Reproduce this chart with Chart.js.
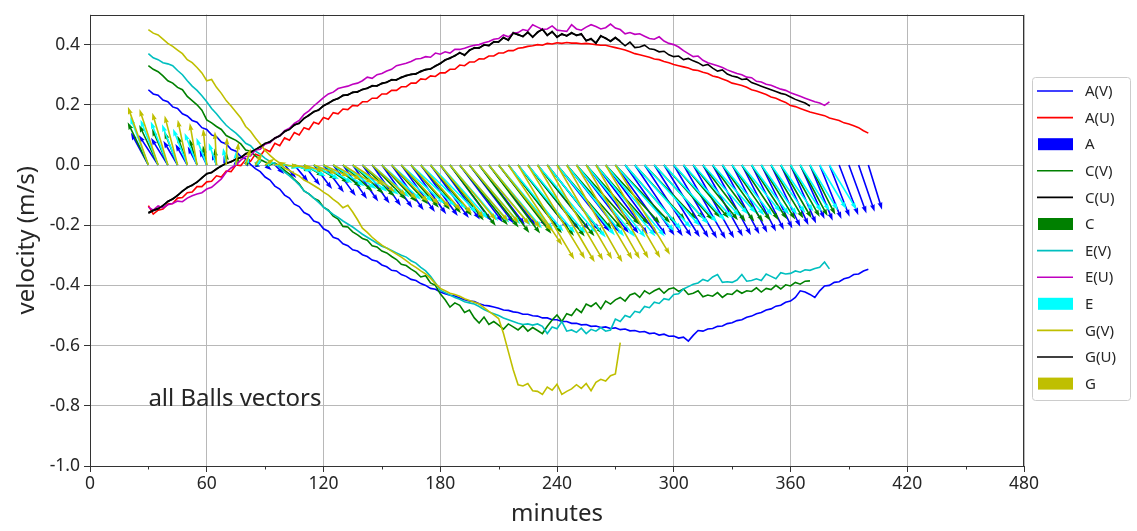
<!DOCTYPE html>
<html>
<head>
<meta charset="utf-8">
<script src="https://cdn.jsdelivr.net/npm/chart.js@4.4.1/dist/chart.umd.min.js"></script>
<style>
  html, body { margin: 0; padding: 0; background: #fff; }
  #wrap { width: 1137px; height: 531px; position: relative; }
</style>
</head>
<body>
<div id="wrap"><canvas id="velocity-chart"></canvas></div>
<script>
// sample clock: every ball logged from minute 30, one reading per 2.5 min
const startMin = 30;
const stepMin = 2.5;

const balls = ['A', 'C', 'E', 'G'];

// ball A
const vA = [
  .250, .236, .232, .216, .210, .193, .188, .170,
  .163, .148, .142, .124, .118, .100, .094, .076,
  .070, .052, .046, .028, .020, .002, -.012, -.022,
  -.040, -.050, -.070, -.080, -.100, -.110, -.130, -.138,
  -.158, -.166, -.186, -.192, -.212, -.220, -.240, -.246,
  -.262, -.268, -.282, -.286, -.298, -.304, -.316, -.320,
  -.332, -.338, -.350, -.352, -.364, -.370, -.380, -.384,
  -.394, -.400, -.410, -.413, -.422, -.428, -.433, -.435,
  -.442, -.448, -.452, -.454, -.461, -.466, -.468, -.472,
  -.476, -.482, -.483, -.488, -.490, -.496, -.496, -.501,
  -.502, -.508, -.508, -.514, -.514, -.520, -.520, -.526,
  -.526, -.531, -.530, -.536, -.535, -.540, -.538, -.543,
  -.541, -.547, -.545, -.551, -.550, -.555, -.553, -.560,
  -.558, -.565, -.562, -.569, -.568, -.575, -.572, -.585,
  -.566, -.550, -.552, -.545, -.543, -.536, -.535, -.527,
  -.524, -.517, -.514, -.506, -.502, -.494, -.490, -.482,
  -.478, -.469, -.466, -.456, -.452, -.440, -.418, -.422,
  -.430, -.440, -.418, -.402, -.400, -.390, -.388, -.378,
  -.374, -.364, -.362, -.352, -.346
];
const uA = [
  -.135, -.163, -.150, -.146, -.130, -.128, -.110, -.108,
  -.092, -.090, -.072, -.072, -.056, -.054, -.036, -.040,
  -.020, -.022, .000, -.002, .018, .012, .036, .030,
  .052, .044, .072, .064, .090, .082, .108, .100,
  .124, .118, .142, .136, .158, .152, .174, .170,
  .186, .184, .198, .196, .210, .210, .222, .222,
  .236, .236, .248, .248, .260, .260, .272, .272,
  .286, .284, .296, .294, .306, .306, .318, .318,
  .332, .330, .342, .342, .353, .352, .362, .362,
  .372, .372, .380, .380, .388, .390, .394, .396,
  .400, .398, .404, .402, .406, .404, .407, .405,
  .405, .403, .404, .402, .400, .398, .398, .394,
  .390, .386, .382, .376, .370, .366, .362, .358,
  .352, .350, .344, .340, .334, .330, .326, .322,
  .316, .314, .308, .304, .296, .292, .286, .280,
  .272, .268, .264, .258, .250, .246, .240, .234,
  .226, .222, .214, .208, .198, .194, .188, .182,
  .176, .172, .168, .164, .156, .152, .148, .140,
  .136, .130, .124, .114, .106
];

// ball C
const vC = [
  .330, .318, .310, .296, .280, .272, .258, .250,
  .228, .214, .200, .182, .150, .140, .128, .118,
  .098, .090, .082, .070, .050, .046, .030, .018,
  .010, .004, .006, -.004, -.018, -.030, -.048, -.062,
  -.086, -.096, -.110, -.118, -.140, -.150, -.170, -.180,
  -.204, -.206, -.222, -.232, -.244, -.250, -.268, -.272,
  -.286, -.292, -.304, -.314, -.330, -.334, -.346, -.356,
  -.372, -.368, -.392, -.400, -.428, -.448, -.472, -.458,
  -.466, -.490, -.482, -.508, -.525, -.505, -.530, -.520,
  -.532, -.545, -.528, -.538, -.548, -.534, -.552, -.540,
  -.550, -.560, -.536, -.515, -.498, -.520, -.494, -.500,
  -.478, -.490, -.462, -.470, -.458, -.478, -.452, -.462,
  -.448, -.440, -.452, -.432, -.426, -.440, -.418, -.428,
  -.418, -.410, -.426, -.412, -.408, -.420, -.412, -.430,
  -.426, -.418, -.438, -.432, -.436, -.424, -.440, -.428,
  -.430, -.416, -.426, -.418, -.420, -.408, -.422, -.410,
  -.414, -.400, -.412, -.398, -.402, -.390, -.396, -.386,
  -.385
];
const uC = [
  -.160, -.152, -.146, -.134, -.122, -.112, -.102, -.086,
  -.076, -.066, -.058, -.042, -.030, -.024, -.014, -.002,
  .004, .012, .018, .026, .036, .044, .050, .062,
  .070, .078, .088, .098, .110, .120, .132, .140,
  .154, .166, .176, .184, .196, .206, .214, .222,
  .230, .234, .240, .244, .250, .256, .262, .264,
  .270, .276, .282, .284, .290, .298, .300, .304,
  .310, .318, .318, .330, .336, .350, .354, .364,
  .372, .366, .380, .390, .388, .400, .396, .410,
  .408, .424, .414, .440, .432, .428, .440, .426,
  .440, .452, .430, .444, .424, .436, .428, .440,
  .430, .436, .412, .420, .404, .430, .420, .412,
  .424, .410, .396, .408, .390, .392, .398, .386,
  .384, .376, .378, .366, .360, .362, .350, .354,
  .346, .340, .330, .334, .322, .312, .316, .302,
  .296, .292, .284, .286, .274, .268, .262, .256,
  .250, .244, .238, .234, .226, .218, .212, .206,
  .196
];

// ball E
const vE = [
  .370, .356, .350, .340, .336, .330, .314, .300,
  .280, .262, .248, .230, .210, .188, .170, .150,
  .132, .118, .106, .090, .072, .064, .046, .036,
  .022, .012, .004, -.008, -.024, -.036, -.050, -.066,
  -.086, -.096, -.110, -.124, -.140, -.152, -.164, -.174,
  -.186, -.196, -.206, -.218, -.230, -.240, -.250, -.260,
  -.270, -.276, -.284, -.292, -.300, -.306, -.318, -.326,
  -.340, -.352, -.370, -.392, -.416, -.424, -.432, -.440,
  -.446, -.454, -.458, -.462, -.470, -.480, -.488, -.494,
  -.500, -.508, -.514, -.520, -.526, -.530, -.528, -.532,
  -.528, -.536, -.560, -.538, -.544, -.520, -.552, -.548,
  -.556, -.542, -.560, -.546, -.552, -.540, -.552, -.548,
  -.512, -.520, -.500, -.506, -.486, -.490, -.470, -.474,
  -.456, -.460, -.444, -.448, -.430, -.428, -.412, -.404,
  -.396, -.392, -.380, -.386, -.372, -.364, -.390, -.388,
  -.390, -.382, -.364, -.386, -.384, -.378, -.384, -.362,
  -.370, -.378, -.358, -.362, -.360, -.352, -.356, -.348,
  -.350, -.344, -.340, -.322, -.345
];
const uE = [
  -.140, -.150, -.136, -.142, -.132, -.128, -.120, -.122,
  -.110, -.102, -.096, -.092, -.080, -.074, -.060, -.046,
  -.024, -.010, .000, .016, .028, .030, .050, .052,
  .070, .074, .090, .096, .114, .122, .138, .148,
  .168, .180, .196, .210, .224, .236, .242, .254,
  .258, .262, .268, .272, .280, .292, .288, .300,
  .304, .312, .318, .330, .334, .338, .344, .352,
  .354, .360, .358, .372, .368, .376, .372, .384,
  .384, .388, .394, .398, .400, .406, .410, .418,
  .420, .432, .426, .438, .440, .450, .446, .466,
  .458, .450, .452, .462, .448, .446, .444, .466,
  .452, .448, .458, .466, .460, .452, .456, .468,
  .455, .450, .436, .440, .434, .436, .428, .420,
  .418, .426, .412, .404, .400, .392, .380, .370,
  .360, .362, .348, .340, .335, .330, .324, .316,
  .310, .304, .300, .292, .290, .278, .276, .268,
  .265, .258, .252, .248, .240, .234, .228, .222,
  .216, .210, .206, .198, .210
];

// ball G
const vG = [
  .450, .438, .432, .418, .404, .394, .382, .370,
  .350, .340, .324, .306, .280, .284, .258, .238,
  .214, .196, .176, .156, .128, .112, .090, .070,
  .048, .032, .018, .006, -.010, -.018, -.028, -.036,
  -.050, -.058, -.068, -.078, -.090, -.100, -.114, -.126,
  -.142, -.134, -.156, -.182, -.210, -.224, -.240, -.254,
  -.266, -.276, -.286, -.296, -.306, -.318, -.330, -.340,
  -.352, -.362, -.376, -.394, -.410, -.418, -.426, -.430,
  -.436, -.444, -.450, -.456, -.462, -.474, -.486, -.498,
  -.510, -.560, -.620, -.680, -.730, -.734, -.726, -.750,
  -.752, -.762, -.738, -.748, -.728, -.762, -.752, -.744,
  -.730, -.742, -.726, -.750, -.722, -.712, -.718, -.700,
  -.694, -.590
];
const uG = [
  -.158, -.150, -.144, -.136, -.120, -.114, -.100, -.088,
  -.074, -.068, -.056, -.044, -.028, -.026, -.012, -.004,
  .006, .010, .020, .024, .038, .042, .052, .060,
  .072, .076, .090, .096, .112, .118, .134, .138,
  .156, .164, .178, .182, .198, .204, .216, .220,
  .232, .232, .242, .242, .252, .254, .264, .262,
  .272, .274, .284, .282, .292, .296, .302, .302,
  .312, .316, .320, .328, .338, .348, .356, .362,
  .374, .364, .382, .388, .390, .398, .398, .408,
  .410, .422, .416, .438, .434, .426, .442, .424,
  .442, .450, .432, .442, .426, .434, .430, .438,
  .432, .434, .414, .418, .406, .428, .422, .410,
  .422, .412
];

const xTicks = [0, 60, 120, 180, 240, 300, 360, 420, 480];
const xMinorTicks = [30, 90, 150, 210, 270, 330, 390, 450];
const yTicks = [-1.0, -0.8, -0.6, -0.4, -0.2, 0.0, 0.2, 0.4];

const noteText = 'all Balls vectors';
const noteAt = { x: 30, y: -0.8 };

const series = { A: [vA, uA], C: [vC, uC], E: [vE, uE], G: [vG, uG] };
const colours = {
  A: { v: '#0000ff', u: '#ff0000', arrow: '#0000ff' },
  C: { v: '#008000', u: '#000000', arrow: '#008000' },
  E: { v: '#00bfbf', u: '#bf00bf', arrow: '#00ffff' },
  G: { v: '#bfbf00', u: '#000000', arrow: '#bfbf00' }
};

const FONT = "'Noto Sans', 'DejaVu Sans', sans-serif";
const TEXT = '#262626';

function toPoints(values) {
  return values.map((y, i) => ({ x: startMin + i * stepMin, y }));
}

// arrows sit on the zero line every 5 min (every second reading)
function quiverFor(ball) {
  const [v, u] = series[ball];
  const out = [];
  const n = Math.min(v.length, u.length);
  for (let i = 0; i < n; i += 2) {
    out.push({ t: startMin + i * stepMin, u: u[i], v: v[i] });
  }
  return out;
}

const datasets = [];
const legendItems = [];
balls.forEach(b => {
  const [v, u] = series[b];
  datasets.push({ label: b + '(V)', data: toPoints(v), borderColor: colours[b].v });
  datasets.push({ label: b + '(U)', data: toPoints(u), borderColor: colours[b].u, quiver: { ball: b, arrows: quiverFor(b), color: colours[b].arrow } });
  legendItems.push({ text: b + '(V)', kind: 'line', color: colours[b].v });
  legendItems.push({ text: b + '(U)', kind: 'line', color: colours[b].u });
  legendItems.push({ text: b, kind: 'patch', color: colours[b].arrow });
});
datasets.forEach((ds, i) => {
  ds.borderWidth = 1.6;
  ds.pointRadius = 0;
  ds.tension = 0;
  ds.fill = false;
  ds.order = datasets.length - i;   // later series drawn on top
});

function drawArrow(ctx, x0, y0, x1, y1, color) {
  const dx = x1 - x0, dy = y1 - y0;
  const len = Math.hypot(dx, dy);
  if (len < 0.5) return;
  const ux = dx / len, uy = dy / len;
  const nx = -uy, ny = ux;
  const w = 1.6, hw = 5, hl = Math.min(7.5, len), hal = hl * 0.9;
  const p = (s, o) => [x0 + ux * s + nx * o, y0 + uy * s + ny * o];
  const pts = [
    p(0, w / 2), p(len - hal, w / 2), p(len - hl, hw / 2), p(len, 0),
    p(len - hl, -hw / 2), p(len - hal, -w / 2), p(0, -w / 2)
  ];
  ctx.beginPath();
  ctx.moveTo(pts[0][0], pts[0][1]);
  for (let i = 1; i < pts.length; i++) ctx.lineTo(pts[i][0], pts[i][1]);
  ctx.closePath();
  ctx.fillStyle = color;
  ctx.fill();
}

const quiverPlugin = {
  id: 'quiver',
  afterDatasetDraw(chart, args) {
    const ds = chart.data.datasets[args.index];
    if (!ds.quiver) return;
    const { ctx, scales: { x, y } } = chart;
    // arrow length: 0.43 of the y-axis unit, same screen scale for u and v
    const k = 0.43 * (y.getPixelForValue(0) - y.getPixelForValue(1));
    ctx.save();
    ds.quiver.arrows.forEach(a => {
      const x0 = x.getPixelForValue(a.t);
      const y0 = y.getPixelForValue(0);
      drawArrow(ctx, x0, y0, x0 + k * a.u, y0 - k * a.v, ds.quiver.color);
    });
    ctx.restore();
  },
  afterDraw(chart) {
    const { ctx, chartArea: ca, scales: { x, y } } = chart;
    ctx.save();
    // axes frame
    ctx.strokeStyle = '#333';
    ctx.lineWidth = 1;
    ctx.strokeRect(Math.round(ca.left) + 0.5, Math.round(ca.top) + 0.5,
      Math.round(ca.right - ca.left) - 1, Math.round(ca.bottom - ca.top) - 1);
    // minor ticks on the time axis
    ctx.beginPath();
    xMinorTicks.forEach(t => {
      const px = Math.round(x.getPixelForValue(t)) + 0.5;
      ctx.moveTo(px, ca.bottom);
      ctx.lineTo(px, ca.bottom + 3.5);
    });
    ctx.stroke();
    // note inside the axes
    ctx.fillStyle = TEXT;
    ctx.font = '24px ' + FONT;
    ctx.textBaseline = 'alphabetic';
    ctx.textAlign = 'left';
    ctx.fillText(noteText, x.getPixelForValue(noteAt.x), y.getPixelForValue(noteAt.y));
    // legend to the right of the axes
    const lx = 1032, ly = 77, lw = 98, lh = 323, rowH = 26.6;
    ctx.fillStyle = 'rgba(255,255,255,0.9)';
    ctx.strokeStyle = '#cccccc';
    ctx.beginPath();
    ctx.roundRect(lx + 0.5, ly + 0.5, lw, lh, 3);
    ctx.fill();
    ctx.stroke();
    ctx.font = '15px ' + FONT;
    ctx.textBaseline = 'middle';
    legendItems.forEach((it, i) => {
      const cy = ly + 14 + i * rowH;
      if (it.kind === 'line') {
        ctx.strokeStyle = it.color;
        ctx.lineWidth = 1.6;
        ctx.beginPath();
        ctx.moveTo(1037, cy);
        ctx.lineTo(1073, cy);
        ctx.stroke();
      } else {
        ctx.fillStyle = it.color;
        ctx.fillRect(1038, cy - 6, 35, 12);
      }
      ctx.fillStyle = TEXT;
      ctx.fillText(it.text, 1085, cy + 1);
    });
    ctx.restore();
  }
};

new Chart(document.getElementById('velocity-chart'), {
  type: 'line',
  data: { datasets },
  plugins: [quiverPlugin],
  options: {
    responsive: true,
    maintainAspectRatio: false,
    animation: false,
    layout: { padding: { top: 10, right: 113, left: 0, bottom: 0 } },
    plugins: { legend: { display: false }, tooltip: { enabled: false } },
    scales: {
      x: {
        type: 'linear',
        min: 0,
        max: 480,
        afterBuildTicks: s => { s.ticks = xTicks.map(v => ({ value: v })); },
        afterFit: s => { s.height = 65; },
        ticks: { color: TEXT, font: { family: FONT, size: 17.5 }, padding: 2, maxRotation: 0, autoSkip: false, callback: v => String(v) },
        grid: { color: '#b8b8b8', lineWidth: 1, tickColor: '#333', tickLength: 6 },
        border: { display: false },
        title: { display: true, text: 'minutes', color: TEXT, font: { family: FONT, size: 24 }, padding: { top: 0, bottom: 2 } }
      },
      y: {
        min: -1.0,
        max: 0.5,
        afterBuildTicks: s => { s.ticks = yTicks.map(v => ({ value: v })); },
        afterFit: s => { s.width = 90; },
        ticks: { color: TEXT, font: { family: FONT, size: 17.5 }, padding: 4, callback: v => v.toFixed(1) },
        grid: { color: '#b8b8b8', lineWidth: 1, tickColor: '#333', tickLength: 6 },
        border: { display: false },
        title: { display: true, text: 'velocity (m/s)', color: TEXT, font: { family: FONT, size: 24 }, padding: { top: 13, bottom: 0 } }
      }
    }
  }
});
</script>
</body>
</html>
